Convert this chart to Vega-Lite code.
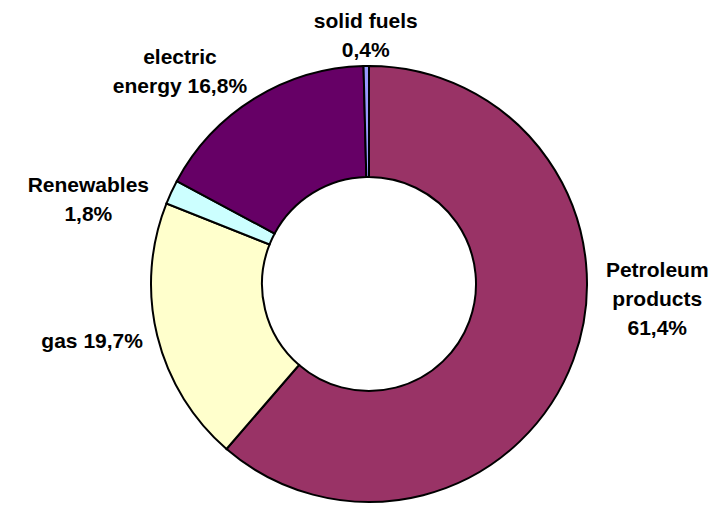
{
  "$schema": "https://vega.github.io/schema/vega-lite/v6.json",
  "width": 710,
  "height": 446,
  "padding": {"left": 14, "top": 61, "right": 0, "bottom": 0},
  "autosize": "none",
  "background": "white",
  "config": {"view": {"stroke": null}},
  "data": {
    "values": [
      {"cat": "Petroleum products", "share": 61.4, "idx": 1, "label": "Petroleum\nproducts\n61,4%"},
      {"cat": "gas", "share": 19.7, "idx": 2, "label": "gas 19,7%"},
      {"cat": "Renewables", "share": 1.8, "idx": 3, "label": "Renewables\n1,8%"},
      {"cat": "electric energy", "share": 16.8, "idx": 4, "label": "electric\nenergy 16,8%"},
      {"cat": "solid fuels", "share": 0.4, "idx": 5, "label": "solid fuels\n0,4%"}
    ]
  },
  "encoding": {
    "theta": {"field": "share", "type": "quantitative", "stack": true},
    "order": {"field": "idx", "type": "quantitative"}
  },
  "layer": [
    {
      "mark": {"type": "arc", "outerRadius": 218, "innerRadius": 107, "stroke": "black", "strokeWidth": 2},
      "encoding": {
        "color": {
          "field": "cat", "type": "nominal", "legend": null,
          "scale": {
            "domain": ["Petroleum products", "gas", "Renewables", "electric energy", "solid fuels"],
            "range": ["#993366", "#FFFFCC", "#CCFFFF", "#660066", "#9999FF"]
          }
        }
      }
    },
    {
      "mark": {"type": "text", "radius": 256, "align": "center", "baseline": "alphabetic", "font": "Liberation Sans", "fontWeight": "bold", "fontSize": 21, "lineBreak": "\n", "lineHeight": 29, "color": "black"},
      "encoding": {"detail": {"field": "cat"}, "text": {"condition": {"test": "datum.cat === 'solid fuels'", "field": "label"}, "value": ""}}
    },
    {
      "mark": {"type": "text", "radius": 286, "dx": -39, "dy": 23, "align": "center", "baseline": "alphabetic", "font": "Liberation Sans", "fontWeight": "bold", "fontSize": 21, "lineBreak": "\n", "lineHeight": 29, "color": "black"},
      "encoding": {"detail": {"field": "cat"}, "text": {"condition": {"test": "datum.cat === 'electric energy'", "field": "label"}, "value": ""}}
    },
    {
      "mark": {"type": "text", "radius": 294, "dx": -14, "dy": 32, "align": "center", "baseline": "alphabetic", "font": "Liberation Sans", "fontWeight": "bold", "fontSize": 21, "lineBreak": "\n", "lineHeight": 29, "color": "black"},
      "encoding": {"detail": {"field": "cat"}, "text": {"condition": {"test": "datum.cat === 'Renewables'", "field": "label"}, "value": ""}}
    },
    {
      "mark": {"type": "text", "radius": 284, "dx": -1, "dy": -4, "align": "center", "baseline": "alphabetic", "font": "Liberation Sans", "fontWeight": "bold", "fontSize": 21, "lineBreak": "\n", "lineHeight": 29, "color": "black"},
      "encoding": {"detail": {"field": "cat"}, "text": {"condition": {"test": "datum.cat === 'gas'", "field": "label"}, "value": ""}}
    },
    {
      "mark": {"type": "text", "radius": 267, "dx": 38, "dy": -100, "align": "center", "baseline": "alphabetic", "font": "Liberation Sans", "fontWeight": "bold", "fontSize": 21, "lineBreak": "\n", "lineHeight": 29, "color": "black"},
      "encoding": {"detail": {"field": "cat"}, "text": {"condition": {"test": "datum.cat === 'Petroleum products'", "field": "label"}, "value": ""}}
    }
  ]
}
